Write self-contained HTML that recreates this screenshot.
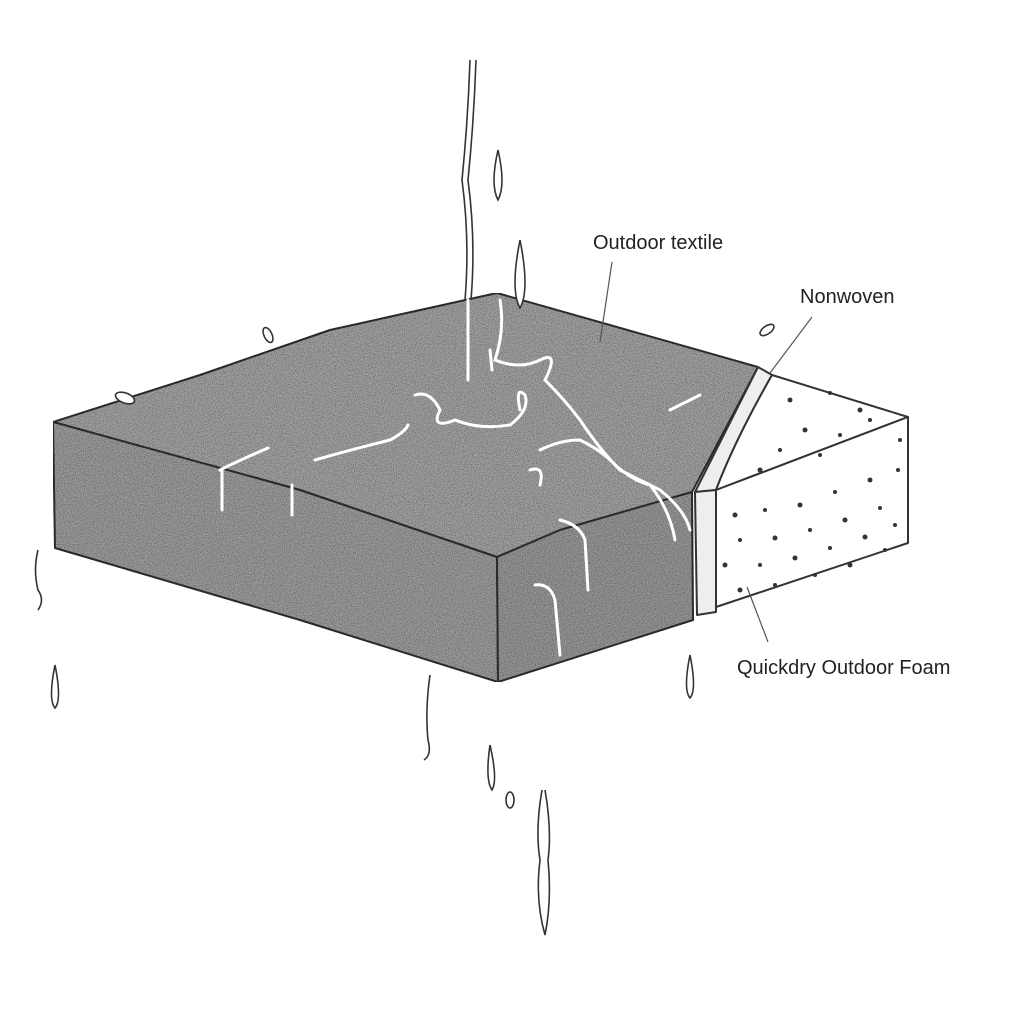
<!DOCTYPE html>
<html><head><style>
html,body{margin:0;padding:0;background:#fff;}
svg{display:block}
text{font-family:"Liberation Sans",sans-serif;font-size:20px;fill:#222}
</style></head><body>
<svg width="1024" height="1024" viewBox="0 0 1024 1024">
<defs>
<filter id="n" x="0" y="0" width="100%" height="100%">
<feTurbulence type="fractalNoise" baseFrequency="0.9" numOctaves="2" seed="3" result="t"/>
<feColorMatrix type="matrix" values="0 0 0 0 0  0 0 0 0 0  0 0 0 0 0  0 0 0 -1.4 0.9" result="a"/>
<feComposite in="a" in2="SourceGraphic" operator="in" result="m"/>
<feMerge><feMergeNode in="SourceGraphic"/><feMergeNode in="m"/></feMerge>
</filter>
</defs>
<g stroke="#333" stroke-width="2" stroke-linejoin="round" filter="url(#n)">
<path d="M53,422 L200,375 L330,330 L497,293 L758,367 L692,492 L560,530 L497,557 L300,490 Z" fill="#a2a2a2"/>
<path d="M53,422 L300,490 L497,557 L498,682 L300,620 L55,548 Z" fill="#9c9c9c"/>
<path d="M497,557 L560,530 L692,492 L693,620 L498,682 Z" fill="#979797"/>
</g>
<g fill="none" stroke="#333" stroke-width="2" stroke-linejoin="round">
<path d="M758,367 L772,375 Q735,440 716,490 L695,492 Z" fill="#eee"/>
<path d="M695,492 L716,490 L716,612 L697,615 Z" fill="#eee"/>
<path d="M772,375 L908,417 L716,490 Q735,440 772,375 Z" fill="#fff"/>
<path d="M716,490 L908,417 L908,543 L716,607 Z" fill="#fff"/>
</g>
<g fill="#333">
<circle cx="790" cy="400" r="2.5"/><circle cx="830" cy="393" r="2"/><circle cx="860" cy="410" r="2.5"/><circle cx="805" cy="430" r="2.5"/><circle cx="780" cy="450" r="2"/><circle cx="840" cy="435" r="2"/><circle cx="760" cy="470" r="2.5"/><circle cx="870" cy="420" r="2"/><circle cx="820" cy="455" r="2"/>
<circle cx="735" cy="515" r="2.5"/><circle cx="765" cy="510" r="2"/><circle cx="800" cy="505" r="2.5"/><circle cx="835" cy="492" r="2"/><circle cx="870" cy="480" r="2.5"/><circle cx="898" cy="470" r="2"/><circle cx="900" cy="440" r="2"/>
<circle cx="740" cy="540" r="2"/><circle cx="775" cy="538" r="2.5"/><circle cx="810" cy="530" r="2"/><circle cx="845" cy="520" r="2.5"/><circle cx="880" cy="508" r="2"/>
<circle cx="725" cy="565" r="2.5"/><circle cx="760" cy="565" r="2"/><circle cx="795" cy="558" r="2.5"/><circle cx="830" cy="548" r="2"/><circle cx="865" cy="537" r="2.5"/><circle cx="895" cy="525" r="2"/>
<circle cx="740" cy="590" r="2.5"/><circle cx="775" cy="585" r="2"/><circle cx="815" cy="575" r="2"/><circle cx="850" cy="565" r="2.5"/><circle cx="885" cy="550" r="2"/>
</g>
<g stroke="#555" stroke-width="1.2">
<line x1="612" y1="262" x2="600" y2="342"/>
<line x1="812" y1="317" x2="770" y2="373"/>
<line x1="747" y1="587" x2="768" y2="642"/>
</g>
<text x="593" y="249">Outdoor textile</text>
<text x="800" y="303">Nonwoven</text>
<text x="737" y="674">Quickdry Outdoor Foam</text>
<g fill="none" stroke="#fff" stroke-width="3" stroke-linecap="round">
<path d="M468,300 L468,380"/>
<path d="M500,300 Q505,330 495,360 Q520,370 540,360 Q560,350 545,380 Q565,400 580,420 Q600,450 620,470 Q640,480 660,490 Q685,510 690,530"/>
<path d="M415,395 Q430,390 440,410 Q430,430 455,420 Q480,430 510,425 Q530,410 525,395 Q515,385 520,410"/>
<path d="M540,450 Q560,440 580,440 Q600,450 610,460 Q630,480 650,485 Q670,510 675,540"/>
<path d="M530,470 Q545,465 540,485"/>
<path d="M220,470 Q240,460 268,448 M222,470 L222,510"/>
<path d="M315,460 Q350,450 390,440 Q405,432 408,425 M292,485 L292,515"/>
<path d="M560,520 Q580,525 585,540 L588,590"/>
<path d="M535,585 Q550,583 555,600 L560,655"/>
<path d="M670,410 Q690,400 700,395"/>
<path d="M490,350 L492,370"/>
</g>
<g fill="none" stroke="#333" stroke-width="1.6">
<path d="M470,60 Q468,120 462,180 Q470,240 465,300"/>
<path d="M476,60 Q474,120 468,180 Q476,240 471,300"/>
<path d="M498,150 Q490,185 498,200 Q506,185 498,150 Z"/>
<path d="M520,240 Q510,290 520,308 Q530,290 520,240 Z" fill="#fff"/>
<ellipse cx="268" cy="335" rx="4" ry="8" transform="rotate(-25 268 335)"/>
<ellipse cx="767" cy="330" rx="8" ry="4" transform="rotate(-35 767 330)"/>
<path d="M38,550 Q33,570 38,590 Q45,600 38,610"/>
<path d="M55,665 Q48,700 55,708 Q62,700 55,665 Z"/>
<path d="M690,655 Q683,690 690,698 Q697,690 690,655 Z"/>
<path d="M430,675 Q425,710 428,740 Q432,755 424,760"/>
<path d="M490,745 Q485,780 492,790 Q498,780 490,745 Z"/>
<ellipse cx="510" cy="800" rx="4" ry="8"/>
<path d="M542,790 Q535,830 540,860 Q535,900 545,935 Q552,900 548,860 Q552,830 545,790"/>
<ellipse cx="125" cy="398" rx="10" ry="5" transform="rotate(20 125 398)" fill="#fff"/>
</g>
</svg>
</body></html>
